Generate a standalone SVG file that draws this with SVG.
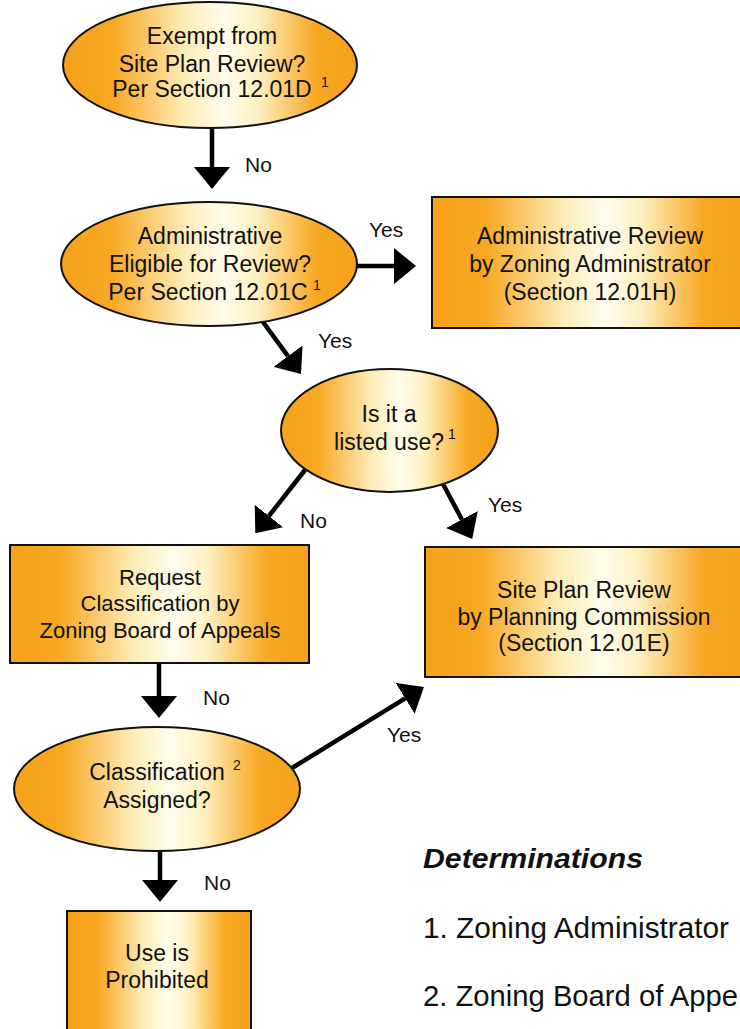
<svg xmlns="http://www.w3.org/2000/svg" width="740" height="1029" viewBox="0 0 740 1029">
<defs>
<linearGradient id="fill" x1="0" y1="0" x2="1" y2="0">
<stop offset="0" stop-color="#F6A11C"/>
<stop offset="0.17" stop-color="#F8A823"/>
<stop offset="0.42" stop-color="#FDEDBA"/>
<stop offset="0.55" stop-color="#FFFDEB"/>
<stop offset="0.66" stop-color="#FDF0C2"/>
<stop offset="0.86" stop-color="#F8A823"/>
<stop offset="1" stop-color="#F6A11C"/>
</linearGradient>
<marker id="head" viewBox="0 0 22 36" refX="0" refY="18" markerWidth="22" markerHeight="36" markerUnits="userSpaceOnUse" orient="auto">
<path d="M0,0 L22,18 L0,36 Z" fill="#000"/>
</marker>
</defs>
<style>
.shape{fill:url(#fill);stroke:#111;stroke-width:2}
.t{font-family:"Liberation Sans",Arial,Helvetica,sans-serif;font-size:23px;fill:#111;text-anchor:middle}
.t22{font-family:"Liberation Sans",Arial,Helvetica,sans-serif;font-size:22px;fill:#111;text-anchor:middle}
.sup{font-family:"Liberation Sans",Arial,Helvetica,sans-serif;font-size:14px;fill:#111}
.lbl{font-family:"Liberation Sans",Arial,Helvetica,sans-serif;font-size:21px;fill:#111}
.conn{stroke:#000;stroke-width:4.5;fill:none;marker-end:url(#head)}
.det{font-family:"Liberation Sans",Arial,Helvetica,sans-serif;fill:#111}
</style>
<rect width="740" height="1029" fill="#fff"/>

<g id="connectors">
<line class="conn" x1="212" y1="128" x2="212" y2="167"/>
<line class="conn" x1="356" y1="266" x2="394" y2="266"/>
<line class="conn" x1="263" y1="322" x2="288" y2="356.2"/>
<line class="conn" x1="305" y1="470" x2="268.9" y2="516"/>
<line class="conn" x1="443" y1="484" x2="461.9" y2="519.5"/>
<line class="conn" x1="159" y1="663" x2="159" y2="696"/>
<line class="conn" x1="292" y1="768" x2="405.2" y2="698.4"/>
<line class="conn" x1="160" y1="850" x2="160" y2="880"/>
<text class="lbl" x="245" y="172">No</text>
<text class="lbl" x="369" y="237">Yes</text>
<text class="lbl" x="318" y="348">Yes</text>
<text class="lbl" x="300" y="528">No</text>
<text class="lbl" x="488" y="512">Yes</text>
<text class="lbl" x="203" y="705">No</text>
<text class="lbl" x="387" y="742">Yes</text>
<text class="lbl" x="204" y="890">No</text>
</g>

<g id="exempt">
<ellipse class="shape" cx="210" cy="65" rx="147" ry="63"/>
<text class="t" x="212" y="44">Exempt from</text>
<text class="t" x="212" y="72">Site Plan Review?</text>
<text class="t" x="212" y="97">Per Section 12.01D</text>
<text class="sup" x="321" y="87">1</text>
</g>

<g id="admin-eligible">
<ellipse class="shape" cx="209" cy="264" rx="148" ry="62"/>
<text class="t" x="210" y="244">Administrative</text>
<text class="t" x="210" y="272">Eligible for Review?</text>
<text class="t" x="208" y="300">Per Section 12.01C</text>
<text class="sup" x="313" y="290">1</text>
</g>

<g id="admin-review">
<rect class="shape" x="432" y="197" width="316" height="131"/>
<text class="t" x="590" y="244">Administrative Review</text>
<text class="t" x="590" y="272">by Zoning Administrator</text>
<text class="t" x="590" y="300">(Section 12.01H)</text>
</g>

<g id="listed-use">
<ellipse class="shape" cx="389.5" cy="430.5" rx="108.5" ry="61.5"/>
<text class="t" x="389" y="422">Is it a</text>
<text class="t" x="389" y="450">listed use?</text>
<text class="sup" x="448" y="439">1</text>
</g>

<g id="request">
<rect class="shape" x="10" y="545" width="299" height="118"/>
<text class="t22" x="160" y="585">Request</text>
<text class="t22" x="160" y="611">Classification by</text>
<text class="t22" x="160" y="638">Zoning Board of Appeals</text>
</g>

<g id="site-plan-review">
<rect class="shape" x="425" y="547" width="323" height="130"/>
<text class="t" x="584" y="598">Site Plan Review</text>
<text class="t" x="584" y="625">by Planning Commission</text>
<text class="t" x="584" y="651">(Section 12.01E)</text>
</g>

<g id="classification">
<ellipse class="shape" cx="157" cy="789" rx="143" ry="62"/>
<text class="t" x="157" y="780">Classification</text>
<text class="t" x="157" y="808">Assigned?</text>
<text class="sup" x="233" y="770">2</text>
</g>

<g id="prohibited">
<rect class="shape" x="67" y="911" width="184" height="130"/>
<text class="t" x="157" y="961">Use is</text>
<text class="t" x="157" y="988">Prohibited</text>
</g>

<g id="determinations">
<text class="det" x="423" y="868" font-size="28" font-weight="bold" font-style="italic" textLength="220" lengthAdjust="spacingAndGlyphs">Determinations</text>
<text class="det" x="423" y="938" font-size="29.5" textLength="306" lengthAdjust="spacingAndGlyphs">1. Zoning Administrator</text>
<text class="det" x="423" y="1006" font-size="29.5" textLength="315" lengthAdjust="spacingAndGlyphs">2. Zoning Board of Appe</text>
</g>
</svg>
